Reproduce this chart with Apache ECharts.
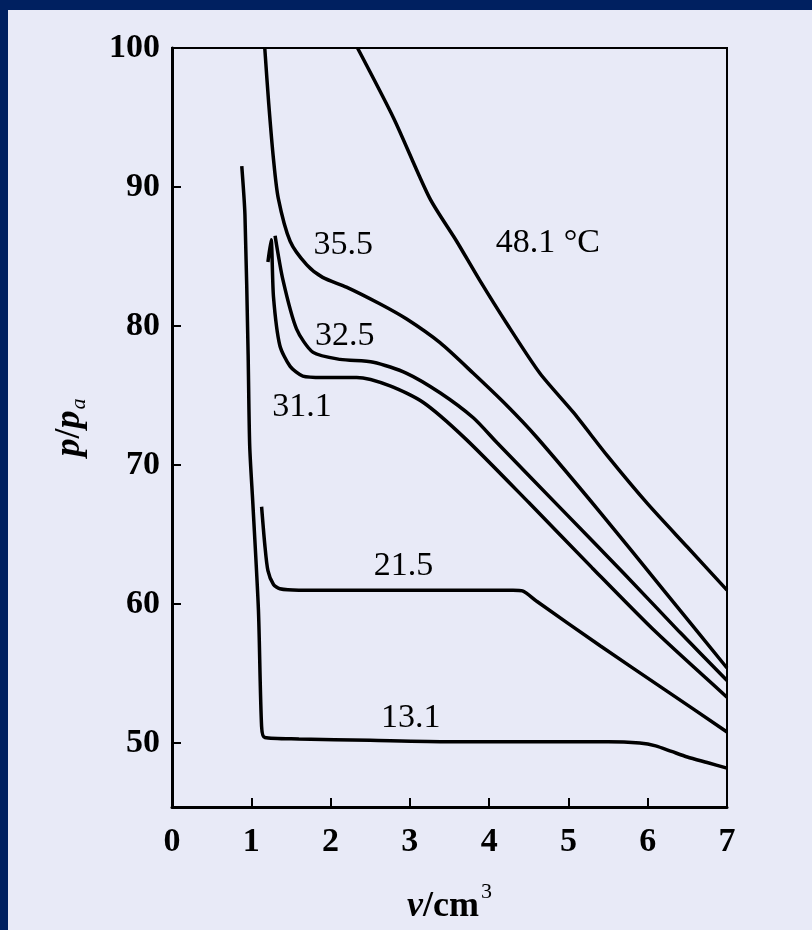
<!DOCTYPE html>
<html>
<head>
<meta charset="utf-8">
<script src="https://cdn.jsdelivr.net/npm/echarts@6/dist/echarts.min.js"></script>
<style>
  html, body { margin: 0; padding: 0; background: #002060; }
  #main { position: absolute; left: 8px; top: 10px; width: 804px; height: 920px; }
</style>
</head>
<body>
<div id="main"></div>
<script>
// tick labels
const xTicks = [0, 1, 2, 3, 4, 5, 6, 7];
const yTicks = [50, 60, 70, 80, 90, 100];

// isotherms, v in cm^3, p/pa
const v131 = [0.88, 0.92, 0.96, 0.98, 1.02, 1.09, 1.13, 1.17, 1.6, 2.5, 3.5, 4.5, 5.5, 5.9, 6.1, 6.3, 6.5, 6.75, 7.0];
const p131 = [91.5, 88, 78, 71.4, 67.2, 59.6, 51.2, 50.4, 50.3, 50.2, 50.1, 50.1, 50.1, 50.0, 49.8, 49.4, 49.0, 48.6, 48.2];

const v215 = [1.13, 1.17, 1.21, 1.28, 1.36, 1.6, 2.5, 3.5, 4.3, 4.42, 4.6, 5.4, 6.2, 7.0];
const p215 = [67.0, 64.3, 62.4, 61.4, 61.1, 61.0, 61.0, 61.0, 61.0, 60.95, 60.2, 57.0, 53.9, 50.8];

const v311 = [1.21, 1.25, 1.28, 1.36, 1.49, 1.65, 1.9, 2.33, 2.75, 3.17, 3.7, 4.5, 5.3, 6.1, 7.0];
const p311 = [84.6, 86.2, 82.1, 78.6, 77.1, 76.4, 76.3, 76.3, 75.7, 74.5, 71.9, 67.3, 62.6, 58.0, 53.3];

const v325 = [1.30, 1.40, 1.57, 1.78, 2.12, 2.54, 2.96, 3.38, 3.8, 4.1, 4.9, 5.7, 6.4, 7.0];
const p325 = [86.5, 83.3, 79.8, 78.1, 77.6, 77.4, 76.6, 75.2, 73.4, 71.6, 66.9, 62.2, 58.0, 54.5];

const v355 = [1.17, 1.22, 1.28, 1.34, 1.49, 1.70, 1.90, 2.2, 2.62, 2.96, 3.38, 3.80, 4.22, 4.6, 5.4, 6.2, 7.0];
const p355 = [100, 96, 92, 89.2, 86.1, 84.4, 83.5, 82.8, 81.6, 80.5, 78.8, 76.6, 74.3, 72.0, 66.6, 61.0, 55.4];

const v481 = [2.34, 2.8, 3.25, 3.59, 3.88, 4.22, 4.64, 5.06, 5.5, 6.0, 6.5, 7.0];
const p481 = [100, 94.9, 89.2, 86.1, 83.3, 80.2, 76.6, 73.8, 70.6, 67.2, 64.1, 61.0];

// curve labels (anchored in data units)
const labelText = ['13.1', '21.5', '31.1', '32.5', '35.5', '48.1 °C'];
const labelV = [3.01, 2.92, 1.64, 2.18, 2.16, 4.74];
const labelP = [51.8, 62.7, 74.2, 79.3, 85.8, 86.0];

const curves = [
  [v131, p131], [v215, p215], [v311, p311],
  [v325, p325], [v355, p355], [v481, p481]
];

const serif = 'Liberation Serif, Times New Roman, serif';

const chart = echarts.init(document.getElementById('main'));

const series = curves.map(function (c) {
  return {
    type: 'line',
    data: c[0].map(function (v, i) { return [v, c[1][i]]; }),
    showSymbol: false,
    smooth: 0.25,
    lineStyle: { color: '#000', width: 3.5 },
    silent: true
  };
});

series.push({
  type: 'scatter',
  symbolSize: 0,
  silent: true,
  itemStyle: { opacity: 1 },
  data: labelV.map(function (v, i) { return [v, labelP[i], labelText[i]]; }),
  label: {
    show: true,
    position: 'inside',
    formatter: function (p) { return p.value[2]; },
    fontFamily: serif,
    fontSize: 34,
    color: '#000',
    opacity: 1
  }
});

chart.setOption({
  backgroundColor: '#E8EAF7',
  animation: false,
  grid: {
    left: 164, top: 38, width: 555, height: 769,
    show: true, borderColor: '#000', borderWidth: 2
  },
  xAxis: {
    type: 'value',
    min: 0, max: 7, interval: 1,
    axisLine: { lineStyle: { color: '#000', width: 3 } },
    axisTick: { inside: true, length: 9, lineStyle: { color: '#000', width: 2 } },
    axisLabel: {
      margin: 18, color: '#000', fontFamily: serif, fontSize: 34, fontWeight: 'bold',
      formatter: function (v) { return xTicks.indexOf(v) >= 0 ? String(v) : ''; }
    },
    splitLine: { show: false },
    name: '{i|v}{n|/cm}{s|3}',
    nameLocation: 'middle',
    nameGap: 74,
    nameTextStyle: {
      rich: {
        i: { fontFamily: serif, fontSize: 36, fontStyle: 'italic', fontWeight: 'bold', color: '#000' },
        n: { fontFamily: serif, fontSize: 36, fontWeight: 'bold', color: '#000' },
        s: { fontFamily: serif, fontSize: 22, color: '#000', padding: [0, 0, 30, 2] }
      }
    }
  },
  yAxis: {
    type: 'value',
    min: 45.4, max: 100,
    axisLine: { show: true, lineStyle: { color: '#000', width: 3 } },
    axisTick: { show: true, inside: true, length: 9, customValues: yTicks, lineStyle: { color: '#000', width: 2 } },
    axisLabel: {
      customValues: yTicks,
      margin: 12, color: '#000', fontFamily: serif, fontSize: 34, fontWeight: 'bold'
    },
    splitLine: { show: false },
    name: '{i|p}{n|/}{i|p}{b|a}',
    nameLocation: 'middle',
    nameRotate: 90,
    nameGap: 82,
    nameTextStyle: {
      rich: {
        i: { fontFamily: serif, fontSize: 36, fontStyle: 'italic', fontWeight: 'bold', color: '#000' },
        n: { fontFamily: serif, fontSize: 36, fontWeight: 'bold', color: '#000' },
        b: { fontFamily: serif, fontSize: 22, fontStyle: 'italic', color: '#000', padding: [18, 0, 0, 1] }
      }
    }
  },
  series: series
});
</script>
</body>
</html>
